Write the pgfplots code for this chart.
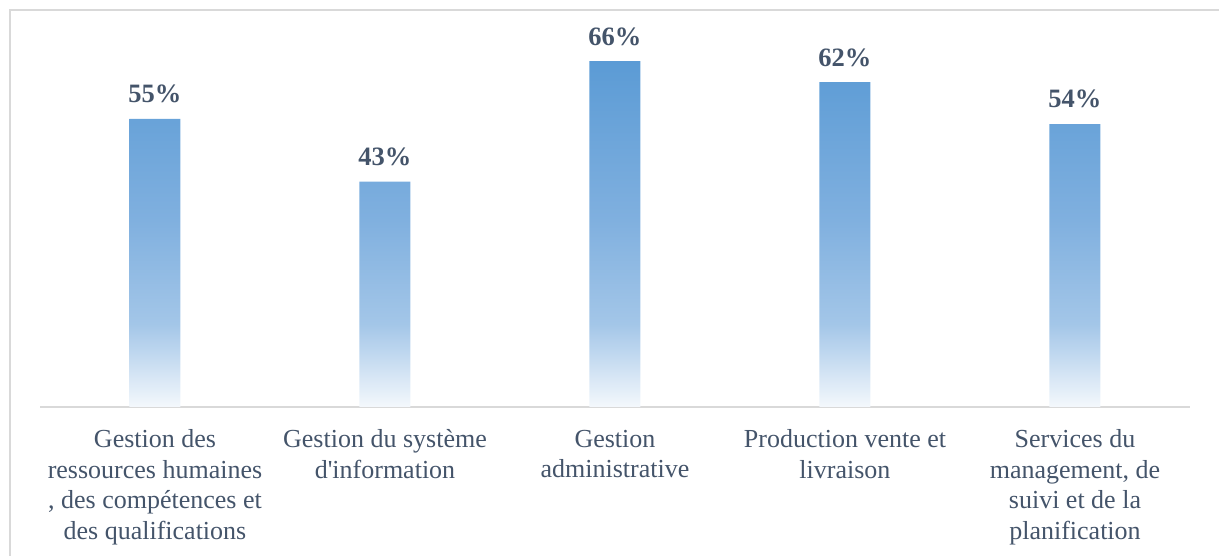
\documentclass[border=0pt]{standalone}
\usepackage{pgfplots}
\pgfplotsset{compat=1.18}
\usepackage{fontspec}
\setmainfont{Liberation Serif}
\definecolor{textcol}{HTML}{44546A}
\definecolor{gridc}{HTML}{D9D9D9}
\definecolor{cbot}{HTML}{F4F8FC}
\definecolor{cmid1}{HTML}{A3C6E8}
\definecolor{cmid2}{HTML}{80B0DF}
\definecolor{ctop}{HTML}{5B9BD5}
\pgfdeclareverticalshading{barshade}{100bp}{color(0bp)=(cbot); color(25bp)=(cbot); color(37bp)=(cmid1); color(52bp)=(cmid2); color(75bp)=(ctop); color(100bp)=(ctop)}
\begin{document}
\begin{tikzpicture}[x=1pt,y=1pt]
\path[use as bounding box] (0,0) rectangle (1219,556);
\draw[color=gridc, line width=1.5pt] (10,0) -- (10,546) -- (1219,546);
\begin{axis}[
  at={(40pt,149pt)}, anchor=south west,
  scale only axis, width=1150pt, height=366.8pt,
  xmin=-0.5, xmax=4.5, ymin=0, ymax=70,
  axis x line=bottom, axis y line=none,
  x axis line style={-, color=gridc, line width=1.5pt},
  xtick={0,1,2,3,4},
  xtick style={draw=none},
  xticklabels={
    {Gestion des\\ressources humaines\\, des compétences et\\des qualifications},
    {Gestion du système\\d\textquotesingle information},
    {Gestion\\administrative},
    {Production vente et\\livraison},
    {Services du\\management, de\\suivi et de la\\planification}},
  xticklabel style={font=\fontsize{26}{30.5}\selectfont, text=textcol, align=center, anchor=north, yshift=-15pt},
  ybar, bar width=51pt,
  /pgf/number format/assume math mode=true,
  nodes near coords={\pgfmathprintnumber{\pgfplotspointmeta}\%},
  every node near coord/.append style={font=\fontsize{26.5}{30}\selectfont\bfseries, text=textcol, anchor=south, inner sep=0pt, yshift=15.5pt},
  clip=false,
]
\addplot[draw=none, shade, shading=barshade] coordinates {(0,55) (1,43) (2,66) (3,62) (4,54)};
\end{axis}
\end{tikzpicture}
\end{document}
